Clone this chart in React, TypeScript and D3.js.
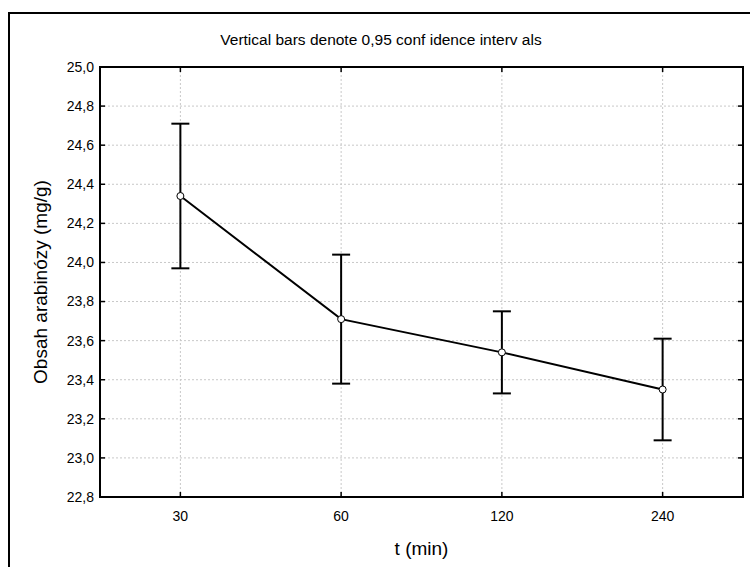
import React from "react";
import * as d3 from "d3";

const categories = ["30", "60", "120", "240"];
const means = [24.34, 23.71, 23.54, 23.35];
const upper = [24.71, 24.04, 23.75, 23.61];
const lower = [23.97, 23.38, 23.33, 23.09];
const yTicks = [22.8, 23.0, 23.2, 23.4, 23.6, 23.8, 24.0, 24.2, 24.4, 24.6, 24.8, 25.0];

export default function App() {
  const width = 750;
  const height = 567;
  const left = 100;
  const right = 743;
  const top = 67;
  const bottom = 497;

  const svgRef = React.useRef<SVGSVGElement>(null);

  React.useEffect(() => {
    const svg = d3.select(svgRef.current);
    svg.selectAll("*").remove();

    const x = d3.scalePoint().domain(categories).range([left, right]).padding(0.5);
    const y = d3.scaleLinear().domain([22.8, 25.0]).range([bottom, top]);
    const fmt = (d: number) => d3.format(".1f")(d).replace(".", ",");
    const font = "Liberation Sans, Arial, sans-serif";

    // outer frame
    svg
      .append("path")
      .attr("d", `M9,${height + 5}V13H${width + 5}`)
      .attr("fill", "none")
      .attr("stroke", "#000")
      .attr("stroke-width", 2);

    // grid
    const grid = svg.append("g").attr("stroke", "#c8c8c8").attr("stroke-dasharray", "2,2");
    grid
      .selectAll(".gy")
      .data(yTicks.slice(1, -1))
      .join("line")
      .attr("x1", left)
      .attr("x2", right)
      .attr("y1", (d) => y(d))
      .attr("y2", (d) => y(d));
    grid
      .selectAll(".gx")
      .data(categories)
      .join("line")
      .attr("x1", (d) => x(d)!)
      .attr("x2", (d) => x(d)!)
      .attr("y1", top)
      .attr("y2", bottom);

    // ticks inside on all sides
    const ticks = svg.append("g").attr("stroke", "#000").attr("stroke-width", 1.5);
    categories.forEach((c) => {
      ticks.append("line").attr("x1", x(c)!).attr("x2", x(c)!).attr("y1", top).attr("y2", top + 5);
      ticks.append("line").attr("x1", x(c)!).attr("x2", x(c)!).attr("y1", bottom).attr("y2", bottom - 5);
    });
    yTicks.forEach((t) => {
      ticks.append("line").attr("x1", left).attr("x2", left + 5).attr("y1", y(t)).attr("y2", y(t));
      ticks.append("line").attr("x1", right).attr("x2", right - 5).attr("y1", y(t)).attr("y2", y(t));
    });

    // plot frame
    svg
      .append("rect")
      .attr("x", left)
      .attr("y", top)
      .attr("width", right - left)
      .attr("height", bottom - top)
      .attr("fill", "none")
      .attr("stroke", "#000")
      .attr("stroke-width", 2);

    // tick labels
    svg
      .append("g")
      .selectAll("text")
      .data(yTicks)
      .join("text")
      .attr("x", left - 6)
      .attr("y", (d) => y(d))
      .attr("dy", "0.35em")
      .attr("text-anchor", "end")
      .style("font-family", font)
      .style("font-size", "14px")
      .text(fmt);

    svg
      .append("g")
      .selectAll("text")
      .data(categories)
      .join("text")
      .attr("x", (d) => x(d)!)
      .attr("y", bottom + 24)
      .attr("text-anchor", "middle")
      .style("font-family", font)
      .style("font-size", "14px")
      .text((d) => d);

    // error bars
    const bars = svg.append("g").attr("stroke", "#000").attr("stroke-width", 2);
    categories.forEach((c, i) => {
      const cx = x(c)!;
      bars.append("line").attr("x1", cx).attr("x2", cx).attr("y1", y(upper[i])).attr("y2", y(lower[i]));
      bars.append("line").attr("x1", cx - 9).attr("x2", cx + 9).attr("y1", y(upper[i])).attr("y2", y(upper[i]));
      bars.append("line").attr("x1", cx - 9).attr("x2", cx + 9).attr("y1", y(lower[i])).attr("y2", y(lower[i]));
    });

    // mean line
    const line = d3
      .line<number>()
      .x((_, i) => x(categories[i])!)
      .y((d) => y(d));
    svg
      .append("path")
      .attr("d", line(means))
      .attr("fill", "none")
      .attr("stroke", "#000")
      .attr("stroke-width", 2);

    svg
      .append("g")
      .selectAll("circle")
      .data(means)
      .join("circle")
      .attr("cx", (_, i) => x(categories[i])!)
      .attr("cy", (d) => y(d))
      .attr("r", 3.5)
      .attr("fill", "#fff")
      .attr("stroke", "#000")
      .attr("stroke-width", 1);

    // titles
    svg
      .append("text")
      .attr("x", 381)
      .attr("y", 45)
      .attr("text-anchor", "middle")
      .style("font-family", font)
      .style("font-size", "15.5px")
      .text("Vertical bars denote 0,95 conf idence interv als");

    svg
      .append("text")
      .attr("x", (left + right) / 2)
      .attr("y", 555)
      .attr("text-anchor", "middle")
      .style("font-family", font)
      .style("font-size", "19px")
      .text("t (min)");

    svg
      .append("text")
      .attr("transform", `translate(47,${(top + bottom) / 2}) rotate(-90)`)
      .attr("text-anchor", "middle")
      .style("font-family", font)
      .style("font-size", "19px")
      .text("Obsah arabinózy (mg/g)");
  }, []);

  return (
    <svg
      ref={svgRef}
      width={width}
      height={height}
      style={{ position: "absolute", left: 0, top: 0, background: "#fff" }}
    />
  );
}
